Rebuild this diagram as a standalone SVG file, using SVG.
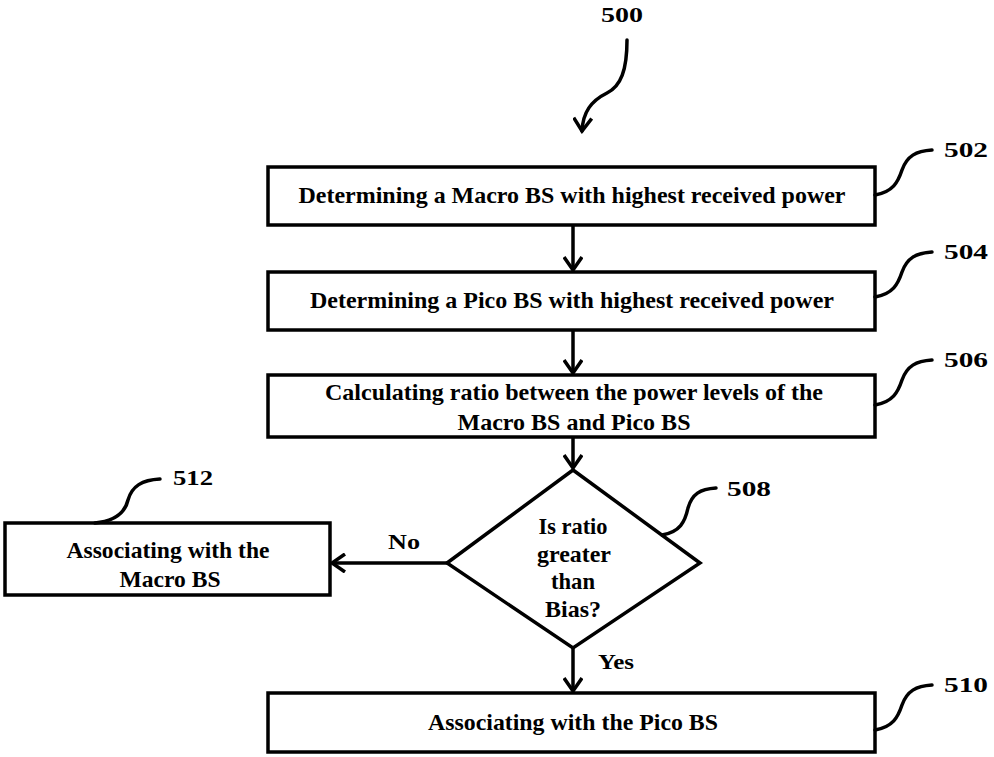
<svg xmlns="http://www.w3.org/2000/svg" width="994" height="757" viewBox="0 0 994 757">
<style>
.box{fill:#fff;stroke:#000;stroke-width:3.5}
.t{font-family:"Liberation Serif","Times New Roman",serif;font-weight:bold;font-size:23px;text-anchor:middle;fill:#000}
.lbl{font-family:"Liberation Serif","Times New Roman",serif;font-weight:bold;font-size:22px;fill:#000}
.c{fill:none;stroke:#000;stroke-width:3.5}
.lead{fill:none;stroke:#000;stroke-width:3.5;stroke-linecap:round}
</style>
<defs>
<marker id="ah" markerWidth="18" markerHeight="20" refX="15" refY="10" orient="auto" markerUnits="userSpaceOnUse">
<path d="M2,1 L15,10 L2,19" fill="none" stroke="#000" stroke-width="3.5"/>
</marker>
</defs>
<rect width="994" height="757" fill="#fff"/>

<g id="ref500">
<text class="lbl" x="601" y="22" textLength="42" lengthAdjust="spacingAndGlyphs">500</text>
<path class="lead" d="M627,40 C627,70 621,86 607,93 C591,101 583,112 582,131" marker-end="url(#ah)"/>
</g>

<g id="n502">
<rect class="box" x="268" y="167" width="607" height="58"/>
<text class="t" x="572" y="203" textLength="547" lengthAdjust="spacingAndGlyphs">Determining a Macro BS with highest received power</text>
<path class="lead" d="M875,195 C893,192 898,182 902,170 C907,156 916,151 932,150"/>
<text class="lbl" x="944" y="157" textLength="44" lengthAdjust="spacingAndGlyphs">502</text>
</g>

<g id="n504">
<rect class="box" x="268" y="272" width="607" height="58"/>
<text class="t" x="572" y="308" textLength="524" lengthAdjust="spacingAndGlyphs">Determining a Pico BS with highest received power</text>
<path class="lead" d="M875,297 C893,294 898,284 902,272 C907,258 916,253 932,252"/>
<text class="lbl" x="944" y="259" textLength="44" lengthAdjust="spacingAndGlyphs">504</text>
</g>

<g id="n506">
<rect class="box" x="268" y="375" width="607" height="62"/>
<text class="t" x="574" y="400" textLength="498" lengthAdjust="spacingAndGlyphs">Calculating ratio between the power levels of the</text>
<text class="t" x="574" y="430" textLength="233" lengthAdjust="spacingAndGlyphs">Macro BS and Pico BS</text>
<path class="lead" d="M875,405 C893,402 898,392 902,380 C907,366 916,361 932,360"/>
<text class="lbl" x="944" y="367" textLength="44" lengthAdjust="spacingAndGlyphs">506</text>
</g>

<g id="n508">
<polygon class="box" points="573,470 700,563 573,648 447,563"/>
<text class="t" x="573" y="534" textLength="69" lengthAdjust="spacingAndGlyphs">Is ratio</text>
<text class="t" x="574" y="562" textLength="74" lengthAdjust="spacingAndGlyphs">greater</text>
<text class="t" x="573" y="589" textLength="44" lengthAdjust="spacingAndGlyphs">than</text>
<text class="t" x="573" y="617" textLength="56" lengthAdjust="spacingAndGlyphs">Bias?</text>
<path class="lead" d="M662,535 C680,532 685,522 688,508 C692,494 700,489 716,488"/>
<text class="lbl" x="727" y="496" textLength="44" lengthAdjust="spacingAndGlyphs">508</text>
</g>

<g id="n512">
<rect class="box" x="5" y="523" width="325" height="72"/>
<text class="t" x="168" y="558" textLength="203" lengthAdjust="spacingAndGlyphs">Associating with the</text>
<text class="t" x="170" y="587" textLength="101" lengthAdjust="spacingAndGlyphs">Macro BS</text>
<path class="lead" d="M95,523 C115,521 125,513 128,500 C132,486 142,480 160,479"/>
<text class="lbl" x="173" y="485" textLength="40" lengthAdjust="spacingAndGlyphs">512</text>
</g>

<g id="n510">
<rect class="box" x="268" y="693" width="607" height="59"/>
<text class="t" x="573" y="730" textLength="290" lengthAdjust="spacingAndGlyphs">Associating with the Pico BS</text>
<path class="lead" d="M875,730 C893,727 898,717 902,705 C907,691 916,686 932,685"/>
<text class="lbl" x="944" y="692" textLength="44" lengthAdjust="spacingAndGlyphs">510</text>
</g>

<g id="connectors">
<path class="c" d="M573,225 L573,270" marker-end="url(#ah)"/>
<path class="c" d="M573,330 L573,373" marker-end="url(#ah)"/>
<path class="c" d="M573,437 L573,468" marker-end="url(#ah)"/>
<path class="c" d="M573,648 L573,691" marker-end="url(#ah)"/>
<path class="c" d="M447,563 L332,563" marker-end="url(#ah)"/>
<text class="lbl" x="388" y="549" textLength="32" lengthAdjust="spacingAndGlyphs">No</text>
<text class="lbl" x="598" y="669" textLength="36" lengthAdjust="spacingAndGlyphs">Yes</text>
</g>
</svg>
